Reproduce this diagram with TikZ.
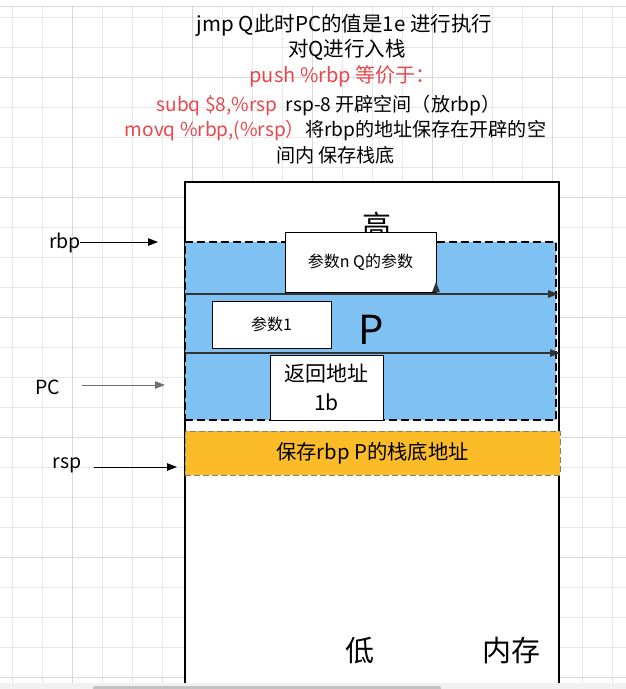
\documentclass[tikz,border=0pt]{standalone}
\usepackage{fontspec}
\newfontfamily\cjk{Noto Sans CJK SC}
\usetikzlibrary{arrows.meta}
\definecolor{gridminor}{HTML}{E8E8E8}
\definecolor{gridmajor}{HTML}{D8D8D8}
\definecolor{blueband}{HTML}{7EC1F2}
\definecolor{orangeband}{HTML}{FBBC28}
\definecolor{redtext}{HTML}{E8474C}
\definecolor{stripgrey}{HTML}{F1F1F1}
\definecolor{thumbgrey}{HTML}{C2C2C2}
\definecolor{darkline}{HTML}{333333}
\definecolor{pcgrey}{HTML}{707070}
\begin{document}
\begin{tikzpicture}[x=1pt,y=-1pt,
  base/.style={inner sep=0pt, outer sep=0pt, align=center},
  titletxt/.style={base, font=\cjk\fontsize{20.5}{25}\selectfont},
  subtxt/.style={base, font=\cjk\fontsize{19.1}{25}\selectfont},
  sidelabel/.style={base, font=\cjk\fontsize{19.5}{22}\selectfont},
  whitebox/.style={base, draw=black, fill=white, line width=1pt, anchor=north west},
  band/.style={base, anchor=north west},
  tipstyle/.style={-{Triangle[length=10pt,width=7.5pt]}},
  ptr/.style={tipstyle, line width=1pt, black},
  inner/.style={tipstyle, line width=1.4pt, darkline},
]
\useasboundingbox (0,0) rectangle (626,689);
\fill[white] (0,0) rectangle (626,689);
% grid
\foreach \x in {12,42,...,612} \draw[gridminor, line width=1pt] (\x,6) -- (\x,683);
\foreach \y in {17,47,...,677} \draw[gridminor, line width=1pt] (0,\y) -- (626,\y);
\foreach \x in {72,192,...,552} \draw[gridmajor, line width=1pt] (\x,6) -- (\x,683);
\foreach \y in {77,197,...,677} \draw[gridmajor, line width=1pt] (0,\y) -- (626,\y);
\draw[gridmajor, line width=1pt] (0,6) -- (626,6);

% title texts
\node[titletxt] (t1) at (344.5,25) {jmp Q此时PC的值是1e 进行执行};
\node[titletxt] (t2) at (347,50) {对Q进行入栈};
\node[subtxt, text=redtext, font=\cjk\fontsize{20}{25}\selectfont] (t3) at (342.5,76) {push \%rbp 等价于：};
\node[subtxt] (t4) at (328.5,106) {\textcolor{redtext}{subq \$8,\%rsp}\ \ rsp-8 开辟空间（放rbp）};
\node[subtxt] (t5) at (335.5,131) {\textcolor{redtext}{movq \%rbp,(\%rsp）}将rbp的地址保存在开辟的空};
\node[subtxt] (t6) at (335.5,155) {间内 保存栈底};

% memory column
\node[whitebox, line width=1.2pt, minimum width=374pt, minimum height=520pt] (mem) at (185,182) {};
\node[base, font=\cjk\fontsize{29}{32}\selectfont] (high) at (377,225) {高};

% blue frame
\node[band, fill=blueband, draw=black, dash pattern=on 8pt off 4pt, line width=1.1pt,
      minimum width=371pt, minimum height=178pt] (frame) at (185,242) {};
\node[base, font=\cjk\fontsize{40}{44}\selectfont] (plabel) at (371,330) {P};

\coordinate (l1s) at (185,294);
\coordinate (l1e) at (558,294);
\coordinate (l2s) at (185,353);
\coordinate (l2e) at (560,353);
\draw[inner] (l1s) -- (l1e);
\draw[inner] (l2s) -- (l2e);

\node[whitebox, minimum width=151pt, minimum height=60pt, font=\cjk\fontsize{16}{19}\selectfont] (argn) at (285,232) {参数n Q的参数};
\node[whitebox, minimum width=119pt, minimum height=47pt, font=\cjk\fontsize{16}{19}\selectfont] (arg1) at (212,301) {参数1};
\node[whitebox, minimum width=113pt, minimum height=65pt, font=\cjk\fontsize{21}{29}\selectfont] (ret) at (270,355) {返回地址\\1b};

\coordinate (uptip) at (436,282);
\draw[tipstyle, line width=1pt, darkline] (argn.south east) -- (uptip);

% saved rbp
\node[band, fill=orangeband, draw=gray, dash pattern=on 6pt off 3pt, line width=1pt,
      minimum width=375pt, minimum height=44pt, font=\cjk\fontsize{20.3}{24}\selectfont] (saved) at (185,431) {保存rbp P的栈底地址};

% side labels
\node[sidelabel] (rbp) at (65,243) {rbp};
\node[sidelabel] (pc) at (48,387) {PC};
\node[sidelabel] (rsp) at (67,465) {rsp};
\coordinate (rbps) at (80,242);
\coordinate (rbpe) at (158,242);
\coordinate (pcs) at (82,385);
\coordinate (pce) at (165,385);
\coordinate (rsps) at (94,467);
\coordinate (rspe) at (177,467);
\draw[ptr] (rbps) -- (rbpe);
\draw[ptr, draw=pcgrey] (pcs) -- (pce);
\draw[ptr] (rsps) -- (rspe);

% bottom labels
\node[base, font=\cjk\fontsize{29}{32}\selectfont] (low) at (360,651) {低};
\node[base, font=\cjk\fontsize{29}{32}\selectfont] (memlabel) at (511,651) {内存};

% bottom strip with scrollbar
\fill[stripgrey] (0,683) rectangle (626,689);
\fill[thumbgrey, rounded corners=2pt] (93,686) rectangle (441,691);
\end{tikzpicture}
\end{document}
